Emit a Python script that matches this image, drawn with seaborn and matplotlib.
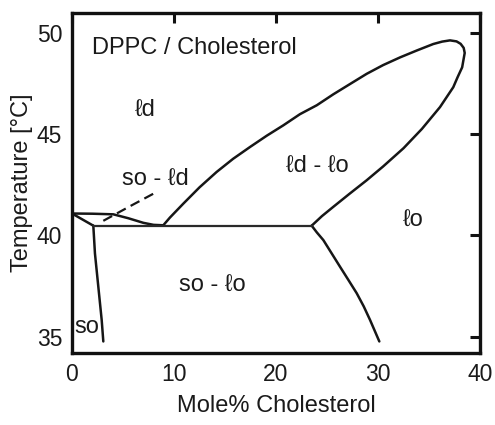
import matplotlib
matplotlib.use("Agg")
import matplotlib.pyplot as plt
import seaborn as sns
import pandas as pd

# ---- data ----
# tie line (three-phase line)
tie_x = [2.09, 23.5]
tie_y = [40.48, 40.48]

# so / so-ld boundary from left axis to tie line
lineA_x = [0.0, 2.09]
lineA_y = [41.08, 40.48]

# upper solidus line from left axis to start of ld-lo loop
lineB_x = [0.0, 2.0, 4.05, 5.5, 7.0, 8.0, 8.95]
lineB_y = [41.08, 41.07, 41.04, 40.85, 40.62, 40.52, 40.5]

# dashed line inside so-ld region
dash_x = [3.07, 5.69, 8.14]
dash_y = [40.72, 41.44, 42.1]

# ld-lo coexistence loop (upper branch then lower-right branch)
loop_x = [8.95, 9.6, 10.92, 12.5, 14.18, 15.8, 17.45, 19.1, 20.72, 22.35,
          24.0, 25.62, 27.3, 28.89, 30.5, 32.16, 33.8, 35.42, 36.3, 37.06,
          37.7, 38.1, 38.4, 38.5, 38.25, 37.8, 37.38, 36.08, 34.3, 32.5,
          30.5, 28.89, 27.2, 25.62, 24.5, 23.5]
loop_y = [40.5, 40.88, 41.57, 42.37, 43.13, 43.78, 44.36, 44.92, 45.43, 45.98,
          46.42, 46.96, 47.48, 47.97, 48.4, 48.78, 49.12, 49.44, 49.56, 49.62,
          49.57, 49.45, 49.25, 49.0, 48.29, 47.8, 47.31, 46.33, 45.25, 44.3,
          43.4, 42.72, 42.05, 41.41, 40.95, 40.48]

# so-lo / lo boundary below tie line
lineE_x = [23.5, 24.0, 24.64, 25.45, 26.27, 27.1, 27.91, 28.6, 29.22, 30.13]
lineE_y = [40.48, 40.15, 39.77, 39.12, 38.46, 37.8, 37.15, 36.5, 35.83, 34.77]

# so / so-lo boundary below tie line
lineF_x = [2.09, 2.25, 2.58, 2.91, 3.07]
lineF_y = [40.48, 39.11, 37.47, 35.83, 34.77]

# region labels: text, x, y (baseline)
label_text = ["ℓd", "so - ℓd", "ℓd - ℓo", "ℓo", "so - ℓo", "so"]
label_x = [7.16, 8.22, 24.07, 33.46, 13.73, 1.44]
label_y = [45.92, 42.51, 43.13, 40.42, 37.23, 35.18]

title_text = "DPPC / Cholesterol"
x_ticks = [0, 10, 20, 30, 40]
y_ticks = [35, 40, 45, 50]
x_label = "Mole% Cholesterol"
y_label = "Temperature [°C]"

# ---- plotting ----
sns.set_theme(style="white")
plt.rcParams["font.family"] = ["Liberation Sans", "DejaVu Sans"]

fig = plt.figure(figsize=(4.95, 4.25), dpi=100)
ax = fig.add_axes([72 / 495, (425 - 353) / 425, (480 - 72) / 495, (353 - 13) / 425])

lc = "#161616"
solid_curves = [(lineA_x, lineA_y), (lineB_x, lineB_y), (loop_x, loop_y),
                (lineE_x, lineE_y), (lineF_x, lineF_y)]
for cx, cy in solid_curves:
    sns.lineplot(x=cx, y=cy, sort=False, estimator=None, color=lc, lw=1.8, ax=ax)

sns.lineplot(x=tie_x, y=tie_y, sort=False, estimator=None, color="#2a2a2a", lw=1.6, ax=ax)
sns.lineplot(x=dash_x, y=dash_y, sort=False, estimator=None, color=lc, lw=1.6,
             linestyle=(0, (4.5, 2.5)), ax=ax)

for t, tx, ty in zip(label_text, label_x, label_y):
    ax.text(tx, ty, t, ha="center", va="baseline", fontsize=17, color="#1a1a1a")

ax.text(1.96, 48.97, title_text, ha="left", va="baseline", fontsize=17, color="#1a1a1a")

ax.set_xlim(0, 40)
ax.set_ylim(34.2, 50.97)
ax.set_xticks(x_ticks)
ax.set_yticks(y_ticks)
ax.set_xlabel(x_label, fontsize=17, color="#1a1a1a", labelpad=7)
ax.set_ylabel(y_label, fontsize=17, color="#1a1a1a", labelpad=3)
ax.tick_params(axis="both", which="major", direction="in", length=7, width=2.2,
               color="#111111", labelsize=16.5, labelcolor="#1a1a1a",
               top=True, right=True, pad=7)
for sp in ax.spines.values():
    sp.set_linewidth(2.4)
    sp.set_color("#111111")
    sp.set_visible(True)

fig.savefig("out.png", dpi=100, facecolor="white")
